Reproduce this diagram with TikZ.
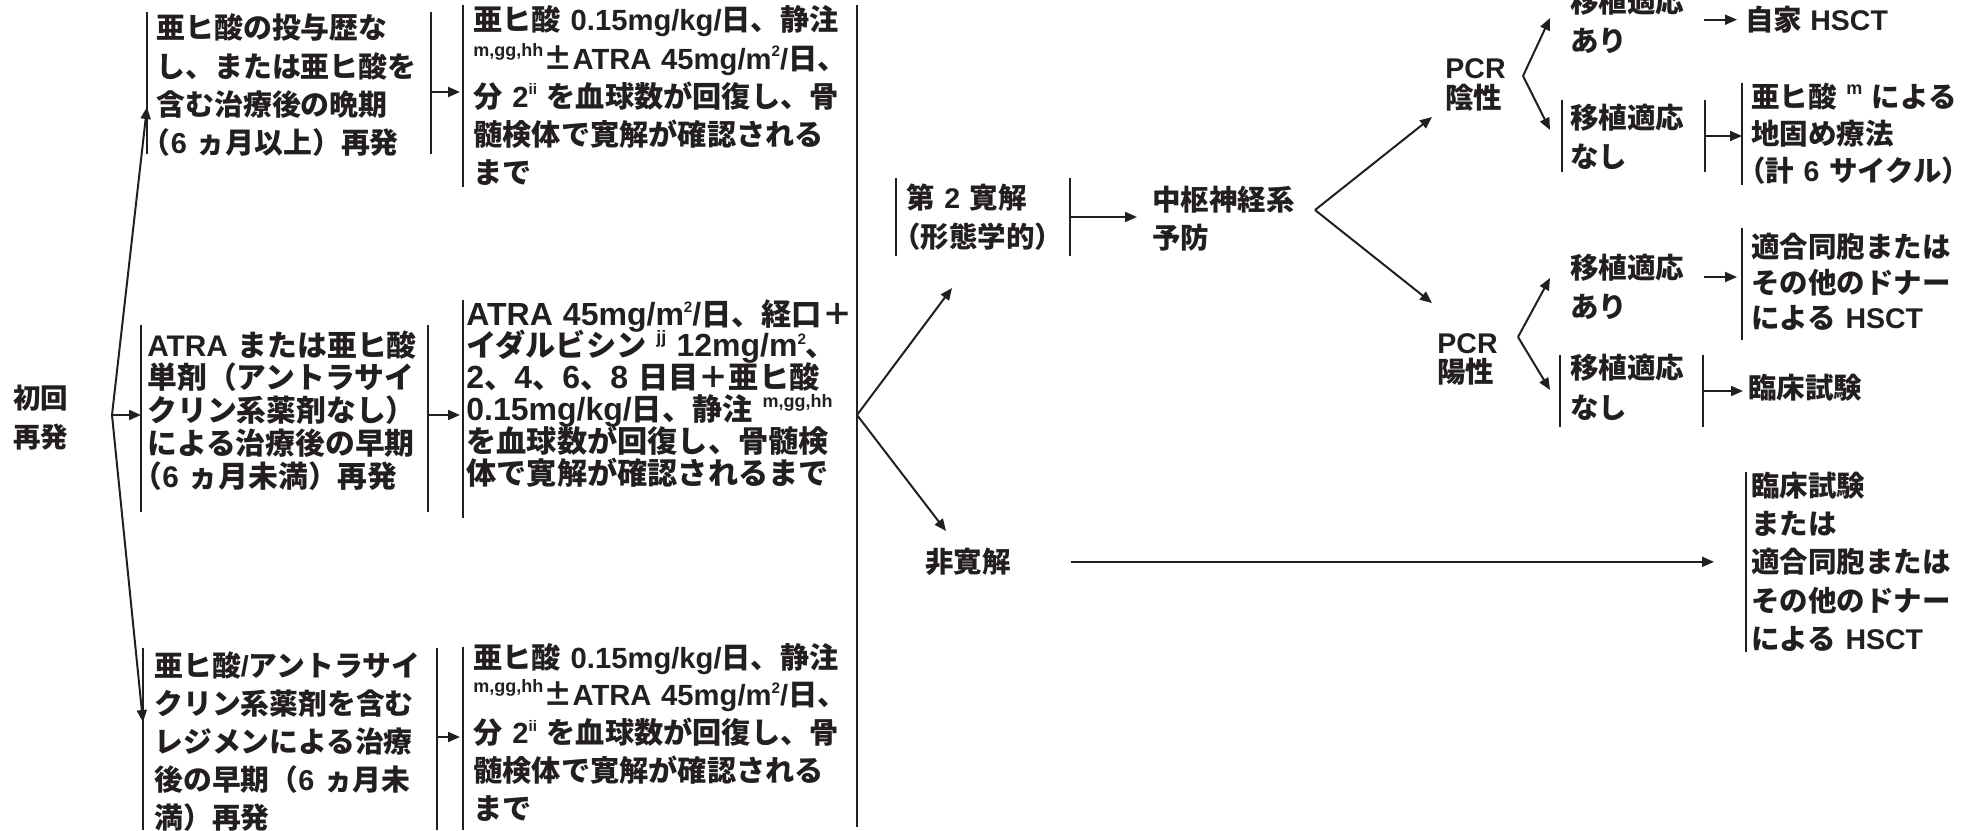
\documentclass[tikz,border=0pt]{standalone}
\usepackage{fontspec}
\usetikzlibrary{arrows.meta,calc}
\newfontfamily\jpf{Noto Sans CJK JP}
\newfontfamily\jpfwid{Noto Sans CJK JP}[RawFeature=+fwid]
\newfontfamily\latf{Liberation Sans}
\newfontfamily\latw{Liberation Sans}[Scale=1.06]
\definecolor{ink}{RGB}{35,31,32}
\newcommand\fs[2]{\jpf\bfseries\fontsize{#1}{#2}\selectfont\lineskiplimit=-100pt\lineskip=0pt\relax}
\newcommand\supa[1]{\raisebox{6.5pt}{\latf\fontsize{9pt}{9pt}\selectfont #1}}
\newcommand\supb[1]{\raisebox{6.3pt}{\latf\fontsize{7.6pt}{7.6pt}\selectfont #1}}
\newcommand\lpar{\hspace*{-.5em}（}
\newcommand\fpm{{\jpfwid ±}}
\begin{document}
\begin{tikzpicture}[x=0.5pt,y=-0.5pt,
 txt/.style={inner sep=0pt, anchor=base west, align=left, text=ink},
 barline/.style={draw=ink, line width=1.25pt},
 lbar/.style={append after command={(\tikzlastnode.north west) edge[barline] (\tikzlastnode.south west)}},
 rbar/.style={append after command={(\tikzlastnode.north east) edge[barline] (\tikzlastnode.south east)}},
 arr/.style={draw=ink, line width=1pt, -{Triangle[length=6pt,width=5pt]}},
]
\useasboundingbox (0,0) rectangle (1973,830);

% left column
\node[txt, text width=40pt, font=\fs{13.75pt}{19.5pt}] (r0) at (13,408.5) {初回\\再発};

\node[txt, lbar, rbar, inner xsep=4.5pt, text width=132.5pt, text height=13.5pt, text depth=57.5pt, font=\fs{14.45pt}{19pt}] (a1) at (147,39)
 {亜ヒ酸の投与歴な\\し、または亜ヒ酸を\\含む治療後の晩期\\\lpar{\latf 6 }ヵ月以上）再発};

\node[txt, lbar, rbar, inner xsep=3pt, text width=137pt, text height=15.5pt, text depth=78pt, font=\fs{14.9pt}{16.4pt}] (b1) at (141,356)
 {{\latf ATRA }または亜ヒ酸\\単剤（アントラサイ\\クリン系薬剤なし）\\による治療後の早期\\\lpar{\latf 6 }ヵ月未満）再発};

\node[txt, lbar, rbar, inner xsep=5.5pt, text width=135.5pt, text height=14pt, text depth=77pt, font=\fs{14.4pt}{19pt}] (c1) at (143,676)
 {亜ヒ酸{\latf /}アントラサイ\\クリン系薬剤を含む\\レジメンによる治療\\後の早期（{\latf 6 }ヵ月未\\満）再発};

% second column
\node[txt, lbar, inner xsep=5pt, text width=200pt, text height=13pt, text depth=78pt, font=\fs{14.6pt}{19.1pt}] (a2) at (463,31)
 {亜ヒ酸{\latf\ 0.15mg/kg/}日、静注\\\supa{m,gg,hh}\fpm{\latf ATRA 45mg/m\supb{2}/}日、\\分{\latf\ 2\supb{ii}\ }を血球数が回復し、骨\\髄検体で寛解が確認される\\まで};

\node[txt, lbar, inner xsep=1.5pt, text width=200pt, text height=12.5pt, text depth=96.5pt, font=\fs{15.1pt}{15.9pt}] (b2) at (463,325)
 {{\latw ATRA 45mg/m\supb{2}/}日、経口＋\\イダルビシン{\latw\ \supa{jj} 12mg/m\supb{2}}、\\{\latw 2}、{\latw 4}、{\latw 6}、{\latw 8 }日目＋亜ヒ酸\\{\latw 0.15mg/kg/}日、静注{\latw\ \supa{m,gg,hh}}\\を血球数が回復し、骨髄検\\体で寛解が確認されるまで};

\node[txt, lbar, inner xsep=5pt, text width=200pt, text height=10.5pt, text depth=81pt, font=\fs{14.6pt}{18.9pt}] (c2) at (463,668)
 {亜ヒ酸{\latf\ 0.15mg/kg/}日、静注\\\supa{m,gg,hh}\fpm{\latf ATRA 45mg/m\supb{2}/}日、\\分{\latf\ 2\supb{ii}\ }を血球数が回復し、骨\\髄検体で寛解が確認される\\まで};

% middle
\node[txt, lbar, rbar, inner xsep=5pt, text width=76.5pt, text height=15.25pt, text depth=23.75pt, font=\fs{14.25pt}{19.5pt}] (d1) at (896,208.5)
 {第{\latf\ 2 }寛解\\\lpar 形態学的）};
\node[txt, text width=80pt, font=\fs{14.25pt}{19pt}] (d2) at (1152,210.5) {中枢神経系\\予防};
\node[txt, font=\fs{14.25pt}{17pt}] (nr) at (925,572.5) {非寛解};

% right
\node[txt, text width=40pt, font=\fs{14.25pt}{15pt}] (e1) at (1445,78.5) {{\latf PCR}\\陰性};
\node[txt, text width=40pt, font=\fs{14.25pt}{14.5pt}] (e2) at (1437,353) {{\latf PCR}\\陽性};
\node[txt, text width=63pt, font=\fs{14.25pt}{19.5pt}] (g1) at (1570,12) {移植適応\\あり};
\node[txt, lbar, rbar, inner xsep=4pt, text width=63pt, text height=14.25pt, text depth=21.75pt, font=\fs{14.25pt}{19.5pt}] (g2) at (1562,128.5) {移植適応\\なし};
\node[txt, text width=63pt, font=\fs{14.25pt}{19.5pt}] (g3) at (1570,278.5) {移植適応\\あり};
\node[txt, lbar, rbar, inner xsep=5pt, text width=61pt, text height=11.75pt, text depth=24.25pt, font=\fs{14.25pt}{20pt}] (g4) at (1560,378.5) {移植適応\\なし};

\node[txt, font=\fs{14.25pt}{17pt}] (h1) at (1745,30.5) {自家{\latf\ HSCT}};
\node[txt, lbar, inner xsep=4.5pt, text width=120pt, text height=12.25pt, text depth=38.75pt, font=\fs{14.25pt}{18.5pt}] (h2) at (1742,107.5)
 {亜ヒ酸{\latf\ \supa{m} }による\\地固め療法\\\lpar 計{\latf\ 6 }サイクル）};
\node[txt, lbar, inner xsep=4.5pt, text width=110pt, text height=14.75pt, text depth=41.25pt, font=\fs{14.25pt}{17.75pt}] (h3) at (1742,257.5)
 {適合同胞または\\その他のドナー\\による{\latf\ HSCT}};
\node[txt, font=\fs{14.25pt}{17pt}] (h4) at (1748,398.5) {臨床試験};
\node[txt, lbar, inner xsep=2.5pt, text width=110pt, text height=12.25pt, text depth=77.75pt, font=\fs{14.25pt}{19.1pt}] (h5) at (1746,496.5)
 {臨床試験\\または\\適合同胞または\\その他のドナー\\による{\latf\ HSCT}};

% coordinates
\coordinate (f1) at (112,415);
\coordinate (f2) at (857,415);
\coordinate (vt) at (857,5);
\coordinate (vb) at (857,827);
\coordinate (t1) at (952,288);
\coordinate (t2) at (946,531);
\coordinate (f3) at (1315,210);
\coordinate (te1) at (1432,117);
\coordinate (te2) at (1432,303);
\coordinate (f4) at (1523,76);
\coordinate (tg1) at (1550,18);
\coordinate (tg2) at (1550,130);
\coordinate (f5) at (1518,337);
\coordinate (tg3) at (1550,278);
\coordinate (tg4) at (1550,390);
\coordinate (a1o) at ([yshift=-4.5pt]a1.east);
\coordinate (b1o) at ([yshift=1.75pt]b1.east);
\coordinate (c1o) at ([yshift=1pt]c1.east);
\coordinate (h3in) at ([yshift=3.5pt]h3.west);

% connectors
\draw[arr] (f1) -- ([yshift=-12pt]a1.west);
\draw[arr] (f1) -- (f1 -| b1.west);
\draw[arr] (f1) -- ([yshift=8.5pt]c1.west);
\draw[arr, shorten >=1.5pt] (a1o) -- (a1o -| a2.west);
\draw[arr, shorten >=1.5pt] (b1o) -- (b1o -| b2.west);
\draw[arr, shorten >=1.5pt] (c1o) -- (c1o -| c2.west);
\draw[barline] (vt) -- (vb);
\draw[arr] (f2) -- (t1);
\draw[arr] (f2) -- (t2);
\draw[arr, shorten >=7.5pt] (d1.east) -- (d1.east -| d2.west);
\draw[arr] (f3) -- (te1);
\draw[arr] (f3) -- (te2);
\draw[arr] (f4) -- (tg1);
\draw[arr] (f4) -- (tg2);
\draw[arr] (f5) -- (tg3);
\draw[arr] (f5) -- (tg4);
\draw[arr, shorten <=3.5pt, shorten >=4pt] (g1.east |- h1.west) -- (h1.west);
\draw[arr] (g2.east) -- (g2.east -| h2.west);
\draw[arr, shorten <=3.5pt, shorten >=2.5pt] (g3.east |- h3in) -- (h3in);
\draw[arr, shorten >=2.5pt] (g4.east) -- (g4.east -| h4.west);
\draw[arr, shorten <=29.75pt, shorten >=16pt] (nr.east) -- (nr.east -| h5.west);
\end{tikzpicture}
\end{document}
